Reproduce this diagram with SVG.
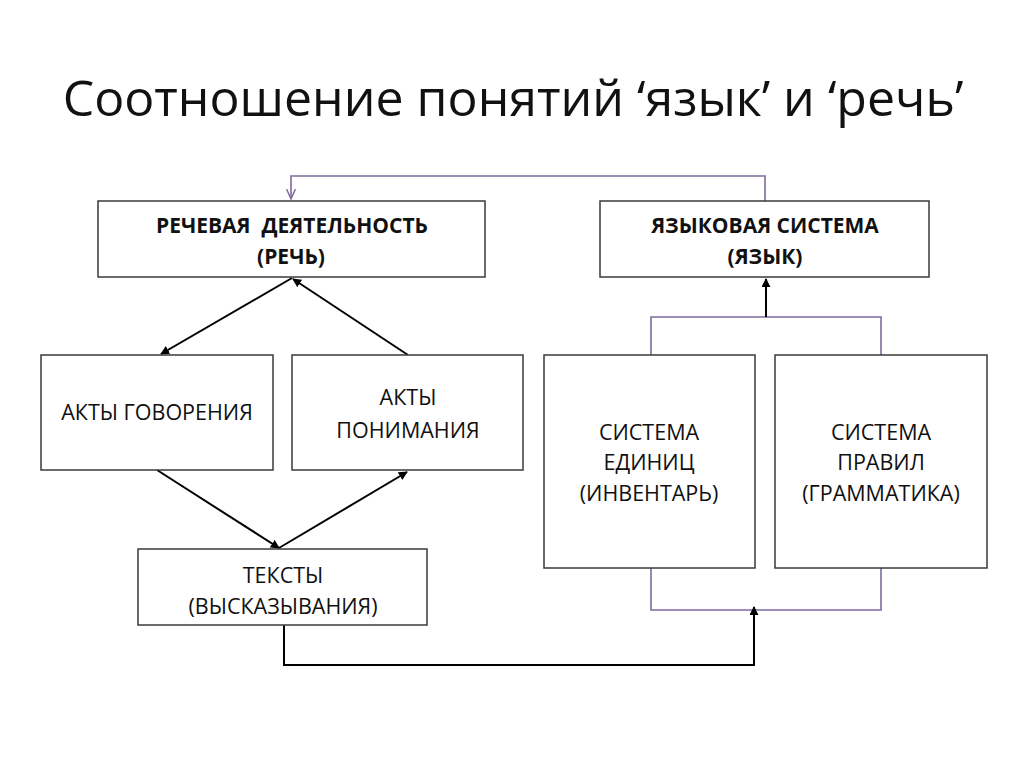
<svg xmlns="http://www.w3.org/2000/svg" width="1024" height="767" viewBox="0 0 1024 767">
<style>
.box{fill:#fff;stroke:#3a3a3a;stroke-width:1.5}
.t{font-family:"Open Sans","Liberation Sans",sans-serif;font-size:21.5px;fill:#111;text-anchor:middle}
.b{font-weight:bold;font-size:21px}
.blk{fill:none;stroke:#000;stroke-width:2}
.pur{fill:none;stroke:#7e6a9e;stroke-width:1.6}
</style>
<defs>
<marker id="ah" viewBox="0 0 10 10" refX="9" refY="5" markerWidth="9" markerHeight="9" orient="auto" markerUnits="userSpaceOnUse">
<path d="M0,0 L10,5 L0,10 z" fill="#000"/>
</marker>
<marker id="open" viewBox="0 0 10 10" refX="9" refY="5" markerWidth="11" markerHeight="11" orient="auto" markerUnits="userSpaceOnUse">
<path d="M0,1 L9,5 L0,9" fill="none" stroke="#7e6a9e" stroke-width="1.3"/>
</marker>
</defs>
<rect width="1024" height="767" fill="#fff"/>
<text x="513" y="116" font-family="Open Sans, Liberation Sans, sans-serif" font-size="50" text-anchor="middle" fill="#111">Соотношение понятий ‘язык’ и ‘речь’</text>

<g id="connectors">
<path class="pur" d="M765,201 V176 H291 V199" marker-end="url(#open)"/>
<path class="pur" d="M651,355 V317 H881 V355"/>
<path class="pur" d="M651,568 V610 H881 V568"/>
<path class="blk" d="M766,317 V279" marker-end="url(#ah)"/>
<path class="blk" d="M292,278 L161,354" marker-end="url(#ah)"/>
<path class="blk" d="M408,355 L293,279" marker-end="url(#ah)"/>
<path class="blk" d="M157,470 L279,548" marker-end="url(#ah)"/>
<path class="blk" d="M279,548 L407,472" marker-end="url(#ah)"/>
<path class="blk" d="M284,625 V665 H754 V607" marker-end="url(#ah)"/>
</g>

<g id="rech">
<rect class="box" x="98" y="201" width="387" height="76"/>
<text class="t b" x="292" y="233">РЕЧЕВАЯ&#160; ДЕЯТЕЛЬНОСТЬ</text>
<text class="t b" x="291" y="264">(РЕЧЬ)</text>
</g>
<g id="yaz">
<rect class="box" x="600" y="201" width="329" height="76"/>
<text class="t b" x="765" y="233">ЯЗЫКОВАЯ СИСТЕМА</text>
<text class="t b" x="765" y="264">(ЯЗЫК)</text>
</g>
<g id="govor">
<rect class="box" x="41" y="355" width="232" height="115"/>
<text class="t" x="157" y="420">АКТЫ ГОВОРЕНИЯ</text>
</g>
<g id="ponim">
<rect class="box" x="292" y="355" width="231" height="115"/>
<text class="t" x="408" y="405">АКТЫ</text>
<text class="t" x="408" y="438">ПОНИМАНИЯ</text>
</g>
<g id="edinic">
<rect class="box" x="544" y="355" width="211" height="213"/>
<text class="t" x="649" y="440">СИСТЕМА</text>
<text class="t" x="649" y="470">ЕДИНИЦ</text>
<text class="t" x="649" y="501">(ИНВЕНТАРЬ)</text>
</g>
<g id="pravil">
<rect class="box" x="775" y="355" width="212" height="213"/>
<text class="t" x="881" y="440">СИСТЕМА</text>
<text class="t" x="881" y="470">ПРАВИЛ</text>
<text class="t" x="881" y="501">(ГРАММАТИКА)</text>
</g>
<g id="teksty">
<rect class="box" x="138" y="549" width="289" height="76"/>
<text class="t" x="283" y="583">ТЕКСТЫ</text>
<text class="t" x="283" y="614">(ВЫСКАЗЫВАНИЯ)</text>
</g>
</svg>
